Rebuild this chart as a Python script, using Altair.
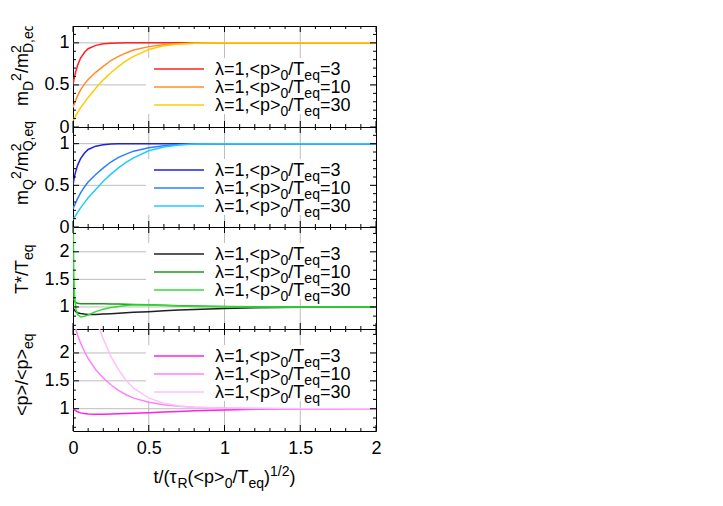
import altair as alt
import pandas as pd

# ---------------- data ----------------
T = [0, 0.005, 0.01, 0.02, 0.03, 0.05, 0.075, 0.1, 0.15, 0.2, 0.25, 0.3,
     0.35, 0.4, 0.5, 0.6, 0.7, 0.8, 1.0, 1.2, 1.5, 2.0]

MD_3 = [0.50, 0.55, 0.60, 0.67, 0.73, 0.82, 0.885, 0.93, 0.97, 0.988, 0.995, 0.998,
        1, 1, 1, 1, 1, 1, 1, 1, 1, 1]
MD_10 = [0.23, 0.26, 0.28, 0.33, 0.37, 0.44, 0.51, 0.565, 0.65, 0.72, 0.79, 0.84,
         0.88, 0.915, 0.955, 0.978, 0.99, 0.996, 1, 1, 1, 1]
MD_30 = [0.08, 0.095, 0.11, 0.14, 0.17, 0.23, 0.29, 0.35, 0.46, 0.56, 0.645, 0.72,
         0.785, 0.84, 0.92, 0.965, 0.985, 0.995, 1, 1, 1, 1]

MQ_3 = [0.50, 0.56, 0.61, 0.68, 0.74, 0.82, 0.885, 0.93, 0.97, 0.988, 0.995, 0.998,
        1, 1, 1, 1, 1, 1, 1, 1, 1, 1]
MQ_10 = [0.22, 0.24, 0.26, 0.30, 0.34, 0.41, 0.48, 0.54, 0.63, 0.71, 0.78, 0.835,
         0.875, 0.91, 0.952, 0.975, 0.99, 0.995, 1, 1, 1, 1]
MQ_30 = [0.09, 0.10, 0.115, 0.145, 0.175, 0.23, 0.29, 0.35, 0.45, 0.55, 0.635, 0.71,
         0.775, 0.83, 0.915, 0.96, 0.985, 0.995, 1, 1, 1, 1]

TS_3 = [1.0, 0.96, 0.94, 0.91, 0.895, 0.88, 0.87, 0.865, 0.865, 0.87, 0.878, 0.886,
        0.894, 0.902, 0.915, 0.93, 0.943, 0.955, 0.973, 0.987, 0.996, 1.0]
TS_10 = [1.8, 1.15, 1.10, 1.075, 1.065, 1.06, 1.06, 1.06, 1.06, 1.058, 1.055, 1.052,
         1.048, 1.045, 1.038, 1.03, 1.022, 1.015, 1.006, 1.002, 1.0, 1.0]
TS_30 = [3.0, 1.6, 1.2, 0.95, 0.86, 0.82, 0.83, 0.855, 0.915, 0.96, 0.99, 1.01,
         1.025, 1.035, 1.035, 1.025, 1.015, 1.01, 1.005, 1.0, 1.0, 1.0]

P_3 = [1.0, 0.99, 0.98, 0.96, 0.945, 0.925, 0.912, 0.905, 0.9, 0.9, 0.903, 0.908,
       0.913, 0.918, 0.928, 0.94, 0.952, 0.962, 0.978, 0.989, 0.996, 1.0]
P_10 = [2.9, 2.75, 2.6, 2.42, 2.32, 2.18, 2.03, 1.9, 1.7, 1.55, 1.43, 1.33,
        1.25, 1.19, 1.115, 1.07, 1.045, 1.028, 1.01, 1.003, 1.0, 1.0]
P_30 = [6.0, 5.6, 5.3, 4.8, 4.4, 3.8, 3.3, 2.95, 2.6, 2.25, 1.94, 1.7,
        1.51, 1.37, 1.19, 1.1, 1.05, 1.025, 1.008, 1.002, 1.0, 1.0]

RATIOS = ["3", "10", "30"]
X_MAJOR = [0, 0.5, 1, 1.5, 2]
X_MINOR = [0.1, 0.2, 0.3, 0.4, 0.6, 0.7, 0.8, 0.9, 1.1, 1.2, 1.3, 1.4, 1.6, 1.7, 1.8, 1.9]
X_GRID = [0.5, 1, 1.5]
Y_MAJOR_M = [0, 0.5, 1]
Y_MINOR_M = [0.1, 0.2, 0.3, 0.4, 0.6, 0.7, 0.8, 0.9, 1.1]
Y_GRID_M = [0.5, 1]
Y_MAJOR_T = [1, 1.5, 2]
Y_MINOR_T = [0.6667, 0.8333, 1.1667, 1.3333, 1.6667, 1.8333, 2.1667, 2.3333]
Y_GRID_T = [1, 1.5, 2]

# ---------------- styling ----------------
FONT = "Liberation Sans"
FS = 18
SUB = 14
DSUB = 5
DSUP = -7
W = 303
GRID = "#bdbdbd"
ONE = pd.DataFrame({"k": [0]})

CW = {" ": 278, "(": 333, ")": 333, "*": 389, ",": 278, ".": 278, "/": 278,
      "<": 584, "=": 584, ">": 584, "D": 722, "Q": 778, "R": 722, "T": 611,
      "e": 556, "m": 833, "p": 556, "q": 556, "t": 278, "λ": 500, "τ": 440}


def tw(s, size):
    return sum(CW.get(c, 556) for c in s) * size / 1000.0


def txt(s, x, y, size, angle=None):
    kw = dict(text=s, font=FONT, fontSize=size, align="left",
              baseline="alphabetic", color="black")
    if angle is not None:
        kw["angle"] = angle
    return alt.Chart(ONE).mark_text(**kw).encode(x=alt.value(x), y=alt.value(y))


def hpieces(pieces, x0, y0):
    out, pos = [], 0.0
    for s, kind in pieces:
        size = FS if kind == "n" else SUB
        sh = 0 if kind == "n" else (DSUB if kind == "sub" else DSUP)
        out.append(txt(s, x0 + pos, y0 + sh, size))
        pos += tw(s, size)
    return out


def vpieces(pieces, bx, y0):
    out, pos = [], 0.0
    for s, kind, adv in pieces:
        size = FS if kind == "n" else SUB
        sh = 0 if kind == "n" else (DSUB if kind == "sub" else DSUP)
        out.append(txt(s, bx + sh, y0 - pos, size, angle=270))
        if adv:
            pos += tw(s, size)
    return out


def panel(tag, vals, colors, ydom, H, ymaj, ymin, ygrid, title, title_y0, leg_top, show_x, extra=None):
    xs = alt.Scale(domain=[0, 2], nice=False, zero=False)
    ys = alt.Scale(domain=ydom, nice=False, zero=False)
    if show_x:
        xax = alt.Axis(values=X_MAJOR, format="~g", labelFont=FONT, labelFontSize=FS,
                       labelColor="black", labelPadding=8, labelFlush=False,
                       labelOverlap=False, ticks=False, domain=False, grid=False, title=None)
    else:
        xax = None
    yax = alt.Axis(values=ymaj, format="~g", labelFont=FONT, labelFontSize=FS,
                   labelColor="black", labelPadding=4, labelFlush=False,
                   labelOverlap=False, ticks=False, domain=False, grid=False, title=None)

    layers = []
    # grid
    layers.append(alt.Chart(pd.DataFrame({"xg": X_GRID})).mark_rule(color=GRID, strokeWidth=1)
                  .encode(x=alt.X("xg:Q", scale=xs, axis=xax)))
    layers.append(alt.Chart(pd.DataFrame({"yg": ygrid})).mark_rule(color=GRID, strokeWidth=1)
                  .encode(y=alt.Y("yg:Q", scale=ys, axis=yax)))
    # opaque key box
    layers.append(alt.Chart(ONE).mark_rect(fill="white").encode(
        x=alt.value(73), x2=alt.value(297), y=alt.value(leg_top - 11), y2=alt.value(leg_top + 45)))
    # curves
    names = [tag + "a", tag + "b", tag + "c"]
    rows = []
    for n, v in zip(names, vals):
        for t, y in zip(T, v):
            rows.append({"t": t, "v": y, "s": n})
    df = pd.DataFrame(rows)
    layers.append(alt.Chart(df).mark_line(clip=True, strokeWidth=1.5).encode(
        x=alt.X("t:Q", scale=xs, axis=xax),
        y=alt.Y("v:Q", scale=ys, axis=yax),
        color=alt.Color("s:N", scale=alt.Scale(domain=names, range=colors), legend=None)))
    # ticks (inward, mirrored)
    for vlist, ln in ((X_MAJOR, 6), (X_MINOR, 3)):
        d = pd.DataFrame({"xt": vlist})
        layers.append(alt.Chart(d).mark_rule(color="black").encode(
            x=alt.X("xt:Q", scale=xs, axis=xax), y=alt.value(0), y2=alt.value(ln)))
        layers.append(alt.Chart(d).mark_rule(color="black").encode(
            x=alt.X("xt:Q", scale=xs, axis=xax), y=alt.value(H), y2=alt.value(H - ln)))
    for vlist, ln in ((ymaj, 6), (ymin, 3)):
        d = pd.DataFrame({"yt": vlist})
        layers.append(alt.Chart(d).mark_rule(color="black").encode(
            y=alt.Y("yt:Q", scale=ys, axis=yax), x=alt.value(0), x2=alt.value(ln)))
        layers.append(alt.Chart(d).mark_rule(color="black").encode(
            y=alt.Y("yt:Q", scale=ys, axis=yax), x=alt.value(W), x2=alt.value(W - ln)))
    # key entries
    for i, (r, c) in enumerate(zip(RATIOS, colors)):
        ly = leg_top + 18 * i
        layers.append(alt.Chart(ONE).mark_rule(color=c, strokeWidth=1.5).encode(
            x=alt.value(81), x2=alt.value(131), y=alt.value(ly)))
        layers += hpieces([("λ=1,<p>", "n"), ("0", "sub"), ("/T", "n"), ("eq", "sub"),
                           ("=" + r, "n")], 142, ly + 5.5)
    # y title
    layers += vpieces(title, -45, title_y0)
    if extra:
        layers += extra
    return alt.layer(*layers).properties(width=W, height=H)


# bounding helper (fixes the top-left corner of the drawing)
corner = alt.Chart(ONE).mark_rect(fill="white").encode(
    x=alt.value(-64), x2=alt.value(0), y=alt.value(-17), y2=alt.value(0))

xtitle = [("t/(τ", "n"), ("R", "sub"), ("(<p>", "n"), ("0", "sub"), ("/T", "n"),
          ("eq", "sub"), (")", "n"), ("1/2", "sup"), (")", "n")]
xt_w = sum(tw(s, FS if k == "n" else SUB) for s, k in xtitle)
xtitle_layers = hpieces(xtitle, W / 2 - xt_w / 2, 153.5)

t1 = [("m", "n", True), ("D", "sub", True), ("2", "sup", True), ("/", "n", True),
      ("m", "n", True), ("2", "sup", False), ("D,eq", "sub", True)]
t2 = [("m", "n", True), ("Q", "sub", True), ("2", "sup", True), ("/", "n", True),
      ("m", "n", True), ("2", "sup", False), ("Q,eq", "sub", True)]
t3 = [("T*/T", "n", True), ("eq", "sub", True)]
t4 = [("<p>/<p>", "n", True), ("eq", "sub", True)]

p1 = panel("d", [MD_3, MD_10, MD_30], ["#ff2020", "#ff8c28", "#ffcc00"], [0, 1.2], 101,
           Y_MAJOR_M, Y_MINOR_M, Y_GRID_M, t1, 80, 43, False, extra=[corner])
p2 = panel("q", [MQ_3, MQ_10, MQ_30], ["#2020e0", "#2a7fff", "#20ccff"], [0, 1.2], 100,
           Y_MAJOR_M, Y_MINOR_M, Y_GRID_M, t2, 78, 43, False)
p3 = panel("t", [TS_3, TS_10, TS_30], ["#202020", "#1a9a1a", "#33dd33"], [0.6, 2.45], 102,
           Y_MAJOR_T, Y_MINOR_T, Y_GRID_T, t3, 67, 27, False)
p4 = panel("p", [P_3, P_10, P_30], ["#ff20e8", "#ff80ff", "#ffc0ff"], [0.6, 2.43], 102,
           Y_MAJOR_T, Y_MINOR_T, Y_GRID_T, t4, 87, 27, True, extra=xtitle_layers)

chart = (alt.vconcat(p1, p2, p3, p4, spacing=0, bounds="flush")
         .resolve_scale(color="independent")
         .properties(padding=0, background="white")
         .configure_view(stroke="black", strokeWidth=1))

chart.save("out.html", embed_options={"renderer": "svg", "actions": False})
